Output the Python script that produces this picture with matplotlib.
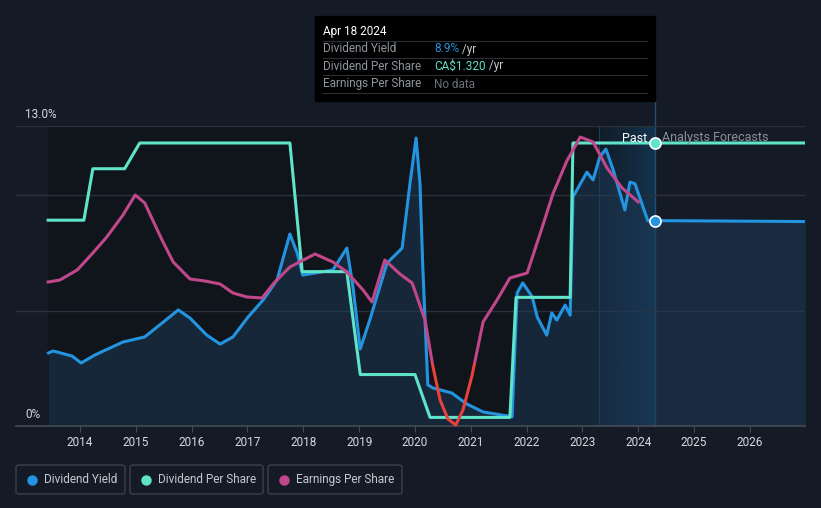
import numpy as np
import matplotlib
matplotlib.use('Agg')
import matplotlib.pyplot as plt
from matplotlib.patches import Rectangle, FancyBboxPatch

plt.rcParams['font.family'] = ['Roboto', 'DejaVu Sans']

# Dividend yield (%)
yield_years = [2013.43, 2013.52, 2013.86, 2014.02, 2014.27, 2014.77, 2015.16, 2015.49, 2015.76, 2015.97,
               2016.27, 2016.51, 2016.74, 2017.01, 2017.28, 2017.53, 2017.76, 2017.89, 2017.99, 2018.21,
               2018.53, 2018.78, 2018.89, 2019.02, 2019.19, 2019.50, 2019.77, 2019.91, 2020.02, 2020.09,
               2020.14, 2020.23, 2020.32, 2020.66, 2020.93, 2021.22, 2021.67, 2021.74, 2021.83, 2021.93,
               2022.10, 2022.19, 2022.36, 2022.45, 2022.54, 2022.69, 2022.78, 2022.83, 2023.08, 2023.19,
               2023.31, 2023.42, 2023.55, 2023.76, 2023.85, 2023.94, 2024.17, 2024.30, 2026.99]
yield_pct = [3.16, 3.25, 3.03, 2.73, 3.08, 3.64, 3.86, 4.50, 5.03, 4.68,
             3.94, 3.55, 3.86, 4.72, 5.46, 6.33, 8.32, 7.50, 6.54, 6.63,
             6.76, 7.71, 6.02, 3.34, 4.59, 7.06, 7.71, 10.50, 12.48, 10.50,
             6.90, 1.78, 1.65, 1.43, 0.95, 0.61, 0.43, 0.40, 5.76, 6.20,
             5.60, 4.72, 3.94, 4.90, 4.59, 5.24, 4.80, 9.93, 11.00, 10.66,
             11.66, 12.00, 11.10, 9.36, 10.57, 10.50, 8.90, 8.90, 8.86]

# Dividend per share (CA$)
dps_years = [2013.43, 2014.00, 2014.07, 2014.23, 2014.80, 2015.07, 2017.76, 2017.98, 2018.78, 2019.02,
             2020.00, 2020.27, 2021.70, 2021.81, 2022.78, 2022.83, 2026.99]
dps = [0.96, 0.96, 0.96, 1.20, 1.20, 1.32, 1.32, 0.72, 0.72, 0.24,
       0.24, 0.04, 0.04, 0.60, 0.60, 1.32, 1.32]

# Earnings per share (CA$)
eps_years = [2013.43, 2013.64, 2013.95, 2014.23, 2014.48, 2014.77, 2014.99, 2015.16, 2015.47, 2015.67,
             2015.97, 2016.24, 2016.51, 2016.74, 2016.99, 2017.26, 2017.49, 2017.76, 2018.21, 2018.53,
             2018.78, 2019.07, 2019.23, 2019.46, 2019.73, 2019.95, 2020.18, 2020.32, 2020.45, 2020.59,
             2020.73, 2020.86, 2021.02, 2021.22, 2021.47, 2021.70, 2022.01, 2022.24, 2022.47, 2022.72,
             2022.96, 2023.19, 2023.44, 2023.71, 2024.00]
eps = [0.81, 0.83, 0.93, 1.10, 1.26, 1.48, 1.68, 1.60, 1.23, 1.01,
       0.84, 0.82, 0.79, 0.70, 0.66, 0.65, 0.81, 0.96, 1.09, 1.01,
       0.91, 0.73, 0.61, 1.03, 0.89, 0.80, 0.43, -0.03, -0.37, -0.56,
       -0.62, -0.47, -0.13, 0.41, 0.63, 0.85, 0.90, 1.29, 1.69, 2.02,
       2.26, 2.21, 1.95, 1.75, 1.61]

year_ticks = list(range(2014, 2027))
today = 2024.30
past_start = 2023.29

BG = '#151b26'
BLUE = '#2394df'
TEAL = '#5fe3c9'
PINK = '#c1478b'
RED = '#e8413c'

W, H = 821, 508
fig = plt.figure(figsize=(W / 100, H / 100), dpi=100, facecolor=BG)

def fx(px):
    return px / W

def fy(py):
    return 1 - py / H

ax = fig.add_axes([fx(16), fy(426), fx(805 - 16), (426 - 126) / H])
ax.set_facecolor(BG)
ax.set_xlim(2012.854, 2026.986)
ax.set_ylim(0, 13)
for s in ax.spines.values():
    s.set_visible(False)

# darker past region + highlighted last year
ax.add_patch(Rectangle((yield_years[0], 0), today - yield_years[0], 13, color='#10141b', zorder=0, lw=0))
grad = np.linspace(0, 1, 200).reshape(1, -1)
rgba = np.zeros((1, 200, 4))
rgba[..., 0] = 0x17 / 255
rgba[..., 1] = 0x48 / 255
rgba[..., 2] = 0x70 / 255
rgba[..., 3] = 0.15 + 0.45 * grad
ax.imshow(rgba, extent=[past_start, today, 0, 13], aspect='auto', zorder=1, interpolation='bilinear')
ax.axvline(past_start, color='#1d3f5e', lw=0.8, zorder=1)
# cursor line
ax.axvline(today, ymin=0, ymax=(426 - 100) / 300, color='#1f5076', lw=1, zorder=1, clip_on=False)

# grid
for g in [5, 10, 13]:
    ax.axhline(g, color='#2b313b', lw=1, zorder=1)
ax.axhline(0, color='#464b54', lw=1.2, zorder=6, clip_on=False)

ax.fill_between(yield_years, yield_pct, 0, color='#1e3b5a', alpha=0.5, lw=0, zorder=2)
ax.plot(yield_years, yield_pct, color=BLUE, lw=2.2, zorder=5, solid_joinstyle='round', solid_capstyle='round')

ax_dps = ax.twinx()
ax_dps.set_ylim(0, 1.32 * 300 / 283)
ax_dps.plot(dps_years, dps, color=TEAL, lw=2.2, zorder=4, solid_joinstyle='round')

ax_eps = ax.twinx()
ax_eps.set_ylim(-0.63, 2.37)
pos_line, = ax_eps.plot(eps_years, eps, color=PINK, lw=2.2, zorder=4, solid_joinstyle='round')
neg_line, = ax_eps.plot(eps_years, eps, color=RED, lw=2.2, zorder=4, solid_joinstyle='round')
clip_pos = Rectangle((2012, 0), 20, 10, transform=ax_eps.transData)
clip_neg = Rectangle((2012, -10), 20, 10, transform=ax_eps.transData)
pos_line.set_clip_path(clip_pos)
neg_line.set_clip_path(clip_neg)

for a in (ax_dps, ax_eps):
    a.set_yticks([])
    a.patch.set_visible(False)
    for s in a.spines.values():
        s.set_visible(False)

# markers at today, drawn on the top axes so nothing covers them
ax_eps.plot([today], [dps[-1]], 'o', ms=8, color=TEAL, mec='white', mew=1.2, zorder=8,
            clip_on=False, transform=ax_dps.transData)
ax_eps.plot([today], [yield_pct[-2]], 'o', ms=8, color=BLUE, mec='white', mew=1.2, zorder=8,
            clip_on=False, transform=ax.transData)

ax.set_yticks([])
ax.set_xticks(year_ticks)
ax.set_xticklabels([str(y) for y in year_ticks], color='#d5d9df', fontsize=8.5)
ax.tick_params(axis='x', length=4, color='#464b54', pad=3)

fig.text(fx(25), fy(114), '13.0%', color='#d5d9df', fontsize=8.5, va='center')
fig.text(fx(25), fy(414), '0%', color='#d5d9df', fontsize=8.5, va='center')
fig.text(fx(647), fy(138), 'Past', color='white', fontsize=9, ha='right', va='center')
fig.text(fx(662), fy(138), 'Analysts Forecasts', color='#8a9099', fontsize=9, ha='left', va='center')

# tooltip
fig.add_artist(Rectangle((fx(315), fy(101)), fx(340), (101 - 16) / H, color='black', zorder=10))
fig.text(fx(323), fy(31), 'Apr 18 2024', color='white', fontsize=8.5, va='center', zorder=11)
rows = [('Dividend Yield', '8.9%', BLUE, ' /yr', 49),
        ('Dividend Per Share', 'CA$1.320', TEAL, ' /yr', 66),
        ('Earnings Per Share', 'No data', '#6b7079', '', 84)]
for sep in [41, 58, 75, 93]:
    fig.add_artist(plt.Line2D([fx(323), fx(647)], [fy(sep), fy(sep)], color='#2c3036', lw=0.8, zorder=11))
for label, val, col, unit, yy in rows:
    fig.text(fx(323), fy(yy), label, color='#8f959d', fontsize=8.5, va='center', zorder=11)
    t = fig.text(fx(434), fy(yy), val, color=col, fontsize=8.5, va='center', zorder=11)
    if unit:
        fig.canvas.draw()
        bb = t.get_window_extent()
        fig.text(bb.x1 / W, fy(yy), unit, color='#c8ccd2', fontsize=8.5, va='center', zorder=11)

# legend boxes
legend = [('Dividend Yield', BLUE, 16, 125), ('Dividend Per Share', TEAL, 130, 263),
          ('Earnings Per Share', PINK, 268, 402)]
for name, col, x0, x1 in legend:
    fig.add_artist(FancyBboxPatch((fx(x0), fy(494)), fx(x1 - x0), 29 / H,
                                  boxstyle='round,pad=0,rounding_size=0.004',
                                  fc='none', ec='#3b4049', lw=1))
    fig.add_artist(plt.Line2D([fx(x0 + 16)], [fy(479.5)], marker='o', ms=6.5, color=col, lw=0))
    fig.text(fx(x0 + 28), fy(479.5), name, color='#c5c9cf', fontsize=8.5, va='center')

fig.savefig('out.png', dpi=100, facecolor=BG)
